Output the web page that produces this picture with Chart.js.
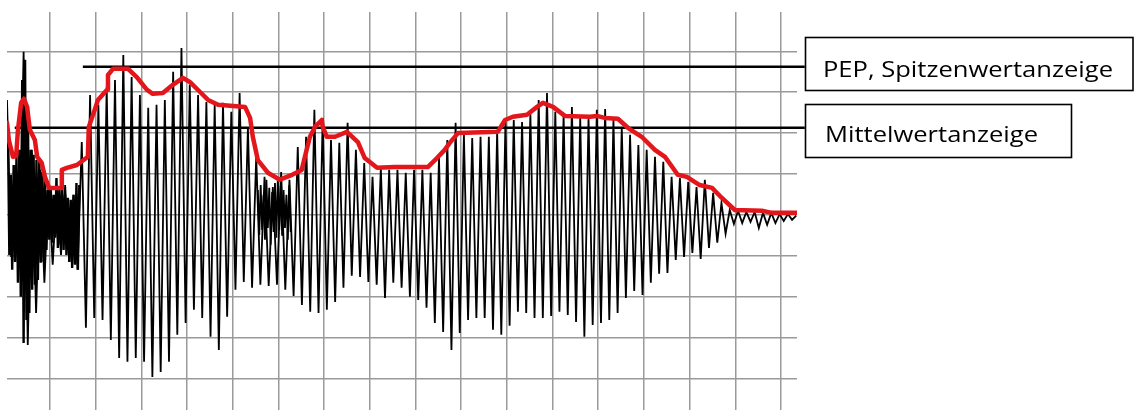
<!DOCTYPE html>
<html>
<head>
<meta charset="utf-8">
<script src="https://cdn.jsdelivr.net/npm/chart.js@4.4.1/dist/chart.umd.min.js"></script>
<style>
  html, body { margin: 0; padding: 0; background: #ffffff; }
  #wrap { position: relative; width: 1134px; height: 410px; }
</style>
</head>
<body>
<div id="wrap"><canvas id="c"></canvas></div>
<script>
// ---- data (units: grid divisions) ----
const gridX = [0, 1, 2, 3, 4, 5, 6, 7, 8, 9, 10, 11, 12, 13, 14, 15, 16];
const gridY = [-4, -3, -2, -1, 0, 1, 2, 3, 4];

// oscillation: one maximum and one minimum per cycle, sampled every 1/11 division
const waveStart = -0.94;
const waveStep = 1 / 11;
const wavePeaks = [2.81,1.22,3.99,1.59,1.10,0.73,0.61,0.73,0.49,1.78,
  2.93,2.69,3.13,3.30,3.91,3.37,2.93,2.62,2.69,2.81,
  3.50,4.08,3.18,2.93,2.76,2.69,2.74,2.52,2.98,2.13,
  1.42,0.93,0.68,1.05,0.86,1.66,1.91,2.57,2.37,1.83,
  1.76,2.25,1.59,1.27,0.93,1.15,1.10,1.10,1.03,1.10,
  1.10,1.03,1.39,1.83,2.25,1.96,1.88,1.91,1.91,2.03,
  2.27,2.32,2.27,2.49,2.81,2.98,2.52,2.45,2.64,2.37,
  2.37,2.57,2.59,2.32,2.15,1.96,1.71,1.59,1.42,1.30,
  0.93,0.90,0.81,0.68,0.86,0.54,0.29,0.12,0.10,0.07,
  0.07,0.05,0.05,0.02,0.02,-0.02];
const waveTroughs = [-1.03,-1.22,-3.18,-2.40,-1.66,-1.22,-0.98,-1.15,-1.34,-2.76,
  -2.52,-2.57,-3.06,-3.50,-3.59,-3.50,-3.59,-3.96,-3.84,-3.59,
  -2.93,-2.64,-2.32,-2.52,-2.98,-3.30,-2.49,-1.83,-1.64,-1.78,
  -1.71,-1.74,-1.71,-1.83,-1.98,-2.20,-2.37,-2.40,-2.32,-2.13,
  -1.78,-1.49,-1.52,-1.64,-1.71,-2.03,-1.66,-1.78,-2.00,-2.08,
  -2.27,-2.64,-2.86,-3.30,-2.89,-2.57,-2.52,-2.52,-2.81,-2.93,
  -2.71,-2.37,-2.40,-2.52,-2.52,-2.47,-2.37,-2.45,-2.62,-2.98,
  -2.69,-2.64,-2.57,-2.40,-2.03,-1.86,-1.96,-1.66,-1.44,-1.42,
  -1.10,-1.03,-0.93,-1.08,-0.81,-0.68,-0.46,-0.22,-0.20,-0.17,
  -0.32,-0.24,-0.20,-0.15,-0.12];

// dense burst at the start, sampled every 1/32 division
const burstStart = -0.92;
const burstStep = 1 / 32;
const burstValues = [2.08,-0.98,0.98,-1.34,1.22,-1.15,1.42,-1.66,1.59,-2.00,
  3.30,-3.13,3.79,-2.57,2.64,-2.40,1.59,-1.83,1.47,-1.71,
  1.34,-1.59,1.34,-1.17,1.05,-1.15,0.90,-0.86,0.61,-0.61,
  0.66,-0.68,0.49,-0.56,0.90,-0.81,0.61,-0.73,0.73,-0.86,
  0.49,-0.98,0.42,-1.15,0.37,-1.30,0.49,-1.22,0.78,-1.34,0.73];

// second, smaller dense patch in the dip
const burst2Start = 4.55;
const burst2Values = [0.61,-0.49,0.73,-0.37,0.49,-0.61,0.86,-0.32,0.66,-0.73,
  0.56,-0.42,0.78,-0.56,0.90,-0.37,0.71,-0.51,0.61,-0.32,0.49,-0.61,0.73,-0.42];

// red envelope (peak-reading meter response)
const envX = [-0.94,-0.90,-0.81,-0.74,-0.70,-0.63,-0.57,-0.50,-0.44,-0.33,-0.28,-0.18,-0.11,-0.02,0.26,0.26,0.37,0.59,0.83,0.85,
  0.98,1.05,1.25,1.27,1.38,1.71,1.90,2.12,2.25,2.47,2.69,2.91,3.06,3.28,3.46,3.68,4.27,4.38,4.44,4.55,
  4.77,5.03,5.30,5.51,5.58,5.69,5.80,5.95,5.97,6.06,6.24,6.50,6.74,6.89,7.16,7.55,8.27,8.47,8.64,8.75,
  8.93,9.80,9.96,10.13,10.44,10.66,10.79,11.01,11.27,11.82,11.97,12.14,12.43,12.65,12.95,13.24,13.46,13.74,13.94,14.22,
  14.49,14.70,14.99,15.58,15.80,16.35];
const envY = [2.25,1.83,1.42,1.44,2.08,2.74,2.84,2.64,2.08,1.83,1.42,1.27,0.93,0.66,0.66,1.10,1.15,1.22,1.42,2.15,
  2.57,2.81,3.06,3.42,3.57,3.57,3.37,3.06,2.96,2.98,3.18,3.35,3.25,3.01,2.81,2.69,2.64,2.37,1.91,1.34,
  1.03,0.86,0.98,1.10,1.42,1.91,2.15,2.32,2.15,1.91,1.91,2.03,1.78,1.39,1.15,1.17,1.17,1.39,1.59,1.76,
  2.00,2.03,2.32,2.40,2.45,2.64,2.74,2.64,2.42,2.40,2.42,2.37,2.35,2.13,1.91,1.59,1.42,0.98,0.93,0.73,
  0.66,0.42,0.12,0.10,0.05,0.05];

// indicator levels
const pepLevel = 3.62;
const pepSpan = [0.72, 16.52];
const meanLevel = 2.13;
const meanSpan = [-0.77, 16.52];

const pepLabel = "PEP, Spitzenwertanzeige";
const meanLabel = "Mittelwertanzeige";

// ---- build tables ----
const wavePts = [];
for (let k = 0; k < wavePeaks.length; k++) {
  wavePts.push({ x: waveStart + (2 * k) * waveStep, y: wavePeaks[k] });
  if (k < waveTroughs.length) wavePts.push({ x: waveStart + (2 * k + 1) * waveStep, y: waveTroughs[k] });
}
const burstPts = burstValues.map((v, i) => ({ x: burstStart + i * burstStep, y: v }));
const burst2Pts = burst2Values.map((v, i) => ({ x: burst2Start + i * burstStep, y: v }));
const envPts = envX.map((x, i) => ({ x: x, y: envY[i] }));
const pepPts = pepSpan.map(x => ({ x: x, y: pepLevel }));
const meanPts = meanSpan.map(x => ({ x: x, y: meanLevel }));

const labelBoxes = {
  id: 'labelBoxes',
  afterDraw(chart) {
    const ctx = chart.ctx;
    ctx.save();
    ctx.strokeStyle = '#000';
    ctx.lineWidth = 1.6;
    ctx.strokeRect(805.5, 37.5, 327.5, 53);
    ctx.strokeRect(805.5, 104.5, 266, 53);
    ctx.fillStyle = '#000';
    ctx.textBaseline = 'alphabetic';
    ctx.font = '21px "Open Sans", "DejaVu Sans", sans-serif';
    const w1 = ctx.measureText(pepLabel).width;
    const sx = 290 / w1;
    ctx.save();
    ctx.translate(823, 77);
    ctx.scale(sx, 1);
    ctx.fillText(pepLabel, 0, 0);
    ctx.restore();
    ctx.save();
    ctx.translate(825, 142);
    ctx.scale(sx, 1);
    ctx.fillText(meanLabel, 0, 0);
    ctx.restore();
    ctx.restore();
  }
};

new Chart(document.getElementById('c'), {
  type: 'line',
  data: {
    datasets: [
      { data: envPts, borderColor: '#e3161b', borderWidth: 4.5, pointRadius: 0, tension: 0, order: 0,
        borderJoinStyle: 'round', borderCapStyle: 'round' },
      { data: pepPts, borderColor: '#000', borderWidth: 2.5, pointRadius: 0, order: 1, clip: false },
      { data: meanPts, borderColor: '#000', borderWidth: 2.5, pointRadius: 0, order: 1, clip: false },
      { data: wavePts, borderColor: '#000', borderWidth: 1.8, pointRadius: 0, tension: 0, order: 2 },
      { data: burstPts, borderColor: '#000', borderWidth: 2.4, pointRadius: 0, tension: 0, order: 3 },
      { data: burst2Pts, borderColor: '#000', borderWidth: 1.8, pointRadius: 0, tension: 0, order: 3 }
    ]
  },
  options: {
    responsive: true,
    maintainAspectRatio: false,
    animation: false,
    events: [],
    layout: { padding: { left: 7, right: 337, top: 12, bottom: 0 } },
    plugins: { legend: { display: false }, tooltip: { enabled: false } },
    scales: {
      x: {
        type: 'linear', min: -0.94, max: 16.35,
        afterBuildTicks: s => { s.ticks = gridX.map(v => ({ value: v })); },
        ticks: { display: false },
        border: { display: false },
        grid: { color: '#9a9a9a', lineWidth: 1.5, drawTicks: false }
      },
      y: {
        type: 'linear', min: -4.77, max: 4.96,
        afterBuildTicks: s => { s.ticks = gridY.map(v => ({ value: v })); },
        ticks: { display: false },
        border: { display: false },
        grid: { color: '#9a9a9a', lineWidth: 1.5, drawTicks: false }
      }
    }
  },
  plugins: [labelBoxes]
});
</script>
</body>
</html>
